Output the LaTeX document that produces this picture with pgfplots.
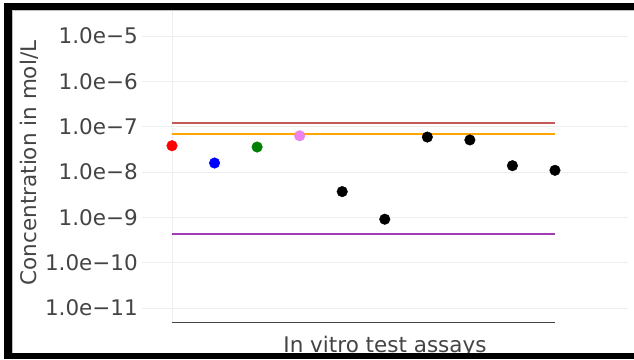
\documentclass[border=0pt]{standalone}
\usepackage{pgfplots}
\pgfplotsset{compat=1.18}
\usepackage{fontspec}
\setmainfont{DejaVu Sans}

\definecolor{txt}{HTML}{444444}
\definecolor{gridc}{HTML}{EEEEEE}
\definecolor{limRed}{HTML}{C45A58}
\definecolor{limOrange}{HTML}{FFA500}
\definecolor{limPurple}{HTML}{A03CB4}
\definecolor{ptViolet}{HTML}{EE82EE}
\definecolor{ptGreen}{HTML}{008000}

\begin{document}
\begin{tikzpicture}[x=1pt,y=1pt]
\useasboundingbox (0,0) rectangle (634,359);
\fill[white] (0,0) rectangle (634,359);
\begin{axis}[
  at={(142pt,37pt)}, anchor=south west,
  width=486pt, height=312pt, scale only axis,
  ymode=log, ymin=4.91e-12, ymax=3.75e-5,
  xmin=-0.705, xmax=10.716,
  axis line style={draw=none},
  major tick length=0pt, minor tick length=0pt,
  yminorticks=false, xminorticks=false,
  xtick={0}, xticklabels={},
  ytick={1e-11,1e-10,1e-9,1e-8,1e-7,1e-6,1e-5},
  yticklabels={1.0e−11,1.0e−10,1.0e−9,1.0e−8,1.0e−7,1.0e−6,1.0e−5},
  grid=major, major grid style={gridc, line width=1pt},
  yticklabel style={anchor=east, inner sep=0pt, xshift=-4pt,
    font=\fontsize{21.5}{25}\selectfont, text=txt},
  xlabel={In vitro test assays},
  xlabel style={at={(axis description cs:0.5,0)}, anchor=base, yshift=-30pt,
    font=\fontsize{21.5}{25}\selectfont, text=txt},
  ylabel={Concentration in mol/L},
  ylabel style={at={(axis description cs:-0.2325,0.5096)}, anchor=center,
    font=\fontsize{21.5}{25}\selectfont, text=txt},
  clip=false,
]
% baseline under the assays
\addplot[txt, line width=1pt] coordinates {(0,4.91e-12) (9,4.91e-12)};
% reference concentration levels
\addplot[limRed, line width=2pt] coordinates {(0,1.2e-7) (9,1.2e-7)};
\addplot[limOrange, line width=2pt] coordinates {(0,6.9e-8) (9,6.9e-8)};
\addplot[limPurple, line width=2pt] coordinates {(0,4.36e-10) (9,4.36e-10)};
% measured assays
\addplot[only marks, mark=*, mark size=5.3pt, red] coordinates {(0,3.8e-8)};
\addplot[only marks, mark=*, mark size=5.3pt, blue] coordinates {(1,1.58e-8)};
\addplot[only marks, mark=*, mark size=5.3pt, ptGreen] coordinates {(2,3.56e-8)};
\addplot[only marks, mark=*, mark size=5.3pt, ptViolet] coordinates {(3,6.3e-8)};
\addplot[only marks, mark=*, mark size=5.3pt, black] coordinates {
  (4,3.7e-9) (5,9.1e-10) (6,5.9e-8) (7,5.1e-8) (8,1.38e-8) (9,1.09e-8)};
\end{axis}
% frame
\fill[black] (4,0) rectangle (12,356);
\fill[black] (4,349) rectangle (634,356);
\fill[black] (4,0) rectangle (634,6);
\draw[gray!50, line width=0.8pt] (12.4,6.4) -- (12.4,348.6) -- (634,348.6);
\end{tikzpicture}
\end{document}
